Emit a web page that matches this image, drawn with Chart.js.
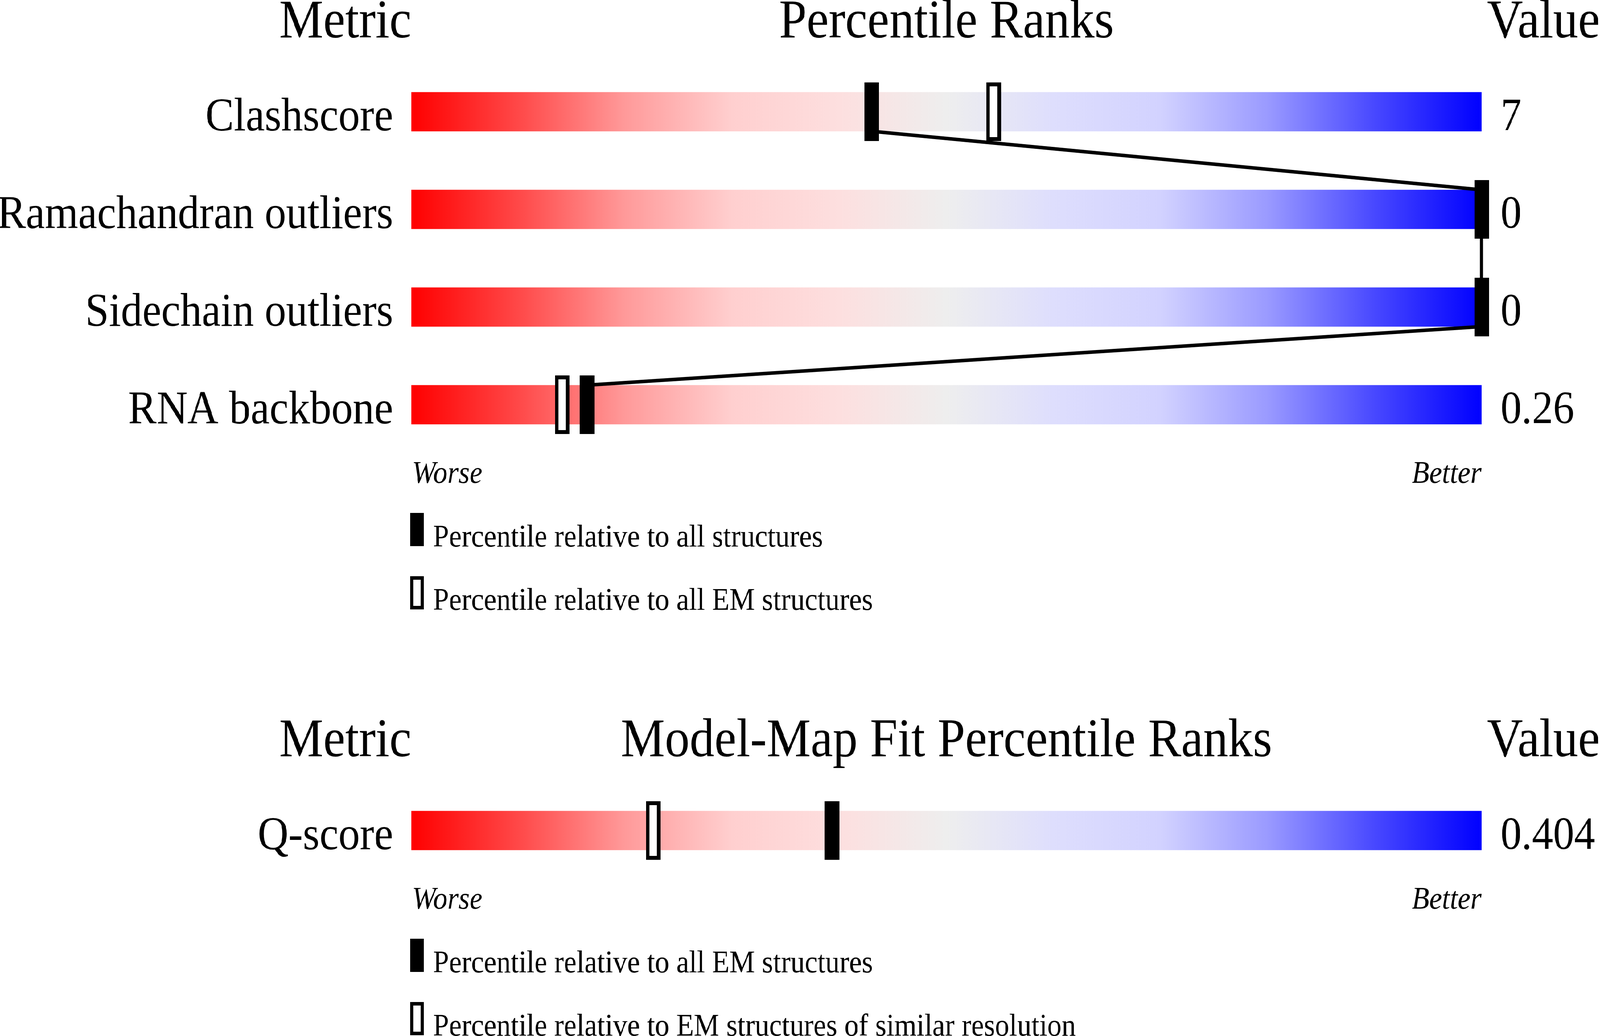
<!DOCTYPE html>
<html>
<head>
<meta charset="utf-8">
<title>Percentile ranks</title>
<script src="https://cdn.jsdelivr.net/npm/chart.js@4.4.0/dist/chart.umd.min.js"></script>
<style>
  html, body { margin: 0; padding: 0; background: #fff; width: 100%; height: 100%; overflow: hidden; }
  #frame { position: absolute; left: 0; top: 0; overflow: hidden; }
  #page { width: 4485px; height: 2652px; position: absolute; left: 0; top: 0; transform-origin: 0 0; }
  canvas { position: absolute; left: 0; }
  #geomChart { top: 0; }
  #fitChart { top: 1640px; }
</style>
</head>
<body>
<div id="frame">
  <div id="page">
    <canvas id="geomChart" width="4485" height="1620"></canvas>
    <canvas id="fitChart" width="4485" height="1012"></canvas>
  </div>
</div>
<script>
// geometry metrics
var metricLabels = ["Clashscore", "Ramachandran outliers", "Sidechain outliers", "RNA backbone"];
var metricValues = ["7", "0", "0", "0.26"];
var pctAll = [43.0, 100, 100, 16.4];   // filled marker
var pctEM = [54.4, 100, 100, 14.1];    // open marker
var geomLegend = ["Percentile relative to all structures", "Percentile relative to all EM structures"];

// model-map fit
var fitLabels = ["Q-score"];
var fitValues = ["0.404"];
var fitPctEM = [39.3];        // filled marker
var fitPctSimilar = [22.6];   // open marker
var fitLegend = ["Percentile relative to all EM structures", "Percentile relative to EM structures of similar resolution"];

var barRange = [0, 100];
var BAR_H = 100;

// the layout is drawn for a 4485x2652 page; stretch it over the real viewport
var vw = window.innerWidth, vh = window.innerHeight;
var sx = vw / 4485, sy = vh / 2652;
var frame = document.getElementById("frame");
frame.style.width = vw + "px";
frame.style.height = vh + "px";
document.getElementById("page").style.transform = "scale(" + sx + "," + sy + ")";
var pixelRatio = (window.devicePixelRatio || 1) * Math.max(sx, sy, 1);

Chart.defaults.font.family = '"Liberation Serif", "Times New Roman", serif';
Chart.defaults.color = "#000";

// marker images used as point styles
function makeMarker(filled) {
  var c = document.createElement("canvas");
  c.width = 41;
  c.height = 150;
  var g = c.getContext("2d");
  g.fillStyle = "#000";
  g.fillRect(0, 0, 41, 150);
  if (!filled) {
    g.fillStyle = "#fff";
    g.fillRect(10, 10, 21, 130);
  }
  return c;
}
var filledMarker = makeMarker(true);
var openMarker = makeMarker(false);

// red -> grey -> blue gradient along the percentile axis
function sliderGradient(context) {
  var chart = context.chart;
  if (!chart.chartArea) return "#eee";
  var x = chart.scales.x;
  var g = chart.ctx.createLinearGradient(x.getPixelForValue(0), 0, x.getPixelForValue(100), 0);
  g.addColorStop(0.0, "#ff0000");
  g.addColorStop(0.1, "#ff4848");
  g.addColorStop(0.2, "#ff9a9a");
  g.addColorStop(0.3, "#ffcfcf");
  g.addColorStop(0.4, "#fddfdf");
  g.addColorStop(0.5, "#eeeeee");
  g.addColorStop(0.6, "#dedefd");
  g.addColorStop(0.7, "#d2d2ff");
  g.addColorStop(0.8, "#9a9aff");
  g.addColorStop(0.9, "#4848ff");
  g.addColorStop(1.0, "#0000ff");
  return g;
}

// push the tick text down so its baseline sits on the bar's lower edge
function lowered(value) {
  return ["", this.getLabelForValue(value)];
}

var sliderDecor = {
  id: "sliderDecor",
  afterDatasetDraw: function (chart, args, opts) {
    // connecting line, drawn over the bars and under the markers
    if (args.index !== 2 || !opts.link) return;
    var x = chart.scales.x, y = chart.scales.y;
    var pts = chart.data.datasets[0].data;
    var ctx = chart.ctx;
    ctx.save();
    ctx.strokeStyle = "#000";
    ctx.lineWidth = 9;
    ctx.beginPath();
    for (var i = 0; i < pts.length - 1; i++) {
      ctx.moveTo(x.getPixelForValue(pts[i].x), y.getPixelForValue(i) + BAR_H / 2);
      ctx.lineTo(x.getPixelForValue(pts[i + 1].x), y.getPixelForValue(i + 1) - BAR_H / 2);
    }
    ctx.stroke();
    ctx.restore();
  },
  afterDraw: function (chart, args, opts) {
    var ctx = chart.ctx;
    var x = chart.scales.x, y = chart.scales.y;
    var n = chart.data.labels.length;
    var left = x.getPixelForValue(0), right = x.getPixelForValue(100);
    var firstTop = y.getPixelForValue(0) - BAR_H / 2;
    var lastBottom = y.getPixelForValue(n - 1) + BAR_H / 2;

    ctx.save();
    ctx.fillStyle = "#000";
    ctx.textBaseline = "alphabetic";

    // headers
    var hy = firstTop - opts.headerGap;
    ctx.font = '139px "Liberation Serif"';
    ctx.textAlign = "right";
    ctx.fillText("Metric", left, hy);
    ctx.textAlign = "center";
    ctx.fillText(opts.title, (left + right) / 2, hy);
    ctx.textAlign = "right";
    ctx.fillText("Value", chart.width, hy);

    // worse / better
    ctx.font = 'italic 80px "Liberation Serif"';
    ctx.textAlign = "left";
    ctx.fillText("Worse", left + 2, lastBottom + 150);
    ctx.textAlign = "right";
    ctx.fillText("Better", right, lastBottom + 150);

    // legend
    ctx.font = '80px "Liberation Serif"';
    ctx.textAlign = "left";
    for (var k = 0; k < opts.legend.length; k++) {
      var top = lastBottom + 227 + k * 162;
      ctx.fillStyle = "#000";
      ctx.fillRect(left - 3, top, 38, 85);
      if (k === 1) {
        ctx.fillStyle = "#fff";
        ctx.fillRect(left + 6, top + 9, 20, 67);
        ctx.fillStyle = "#000";
      }
      ctx.fillText(opts.legend[k], left + 61, top + 86);
    }
    ctx.restore();
  }
};

function buildSlider(canvasId, labels, values, filledPct, openPct, legend, decor, padTop, padBottom) {
  var ctx = document.getElementById(canvasId).getContext("2d");
  return new Chart(ctx, {
    type: "bar",
    data: {
      labels: labels,
      datasets: [
        {
          type: "line",
          label: legend[0],
          data: filledPct.map(function (v, i) { return { x: v, y: labels[i] }; }),
          showLine: false,
          pointStyle: filledMarker,
          pointRadius: 5,
          pointBorderWidth: 0,
          clip: false
        },
        {
          type: "line",
          label: legend[1],
          data: openPct.map(function (v, i) { return { x: v, y: labels[i] }; }),
          showLine: false,
          pointStyle: openMarker,
          pointRadius: 5,
          pointBorderWidth: 0,
          clip: false
        },
        {
          type: "bar",
          label: "range",
          data: labels.map(function () { return barRange; }),
          backgroundColor: sliderGradient,
          borderWidth: 0,
          barThickness: BAR_H
        }
      ]
    },
    options: {
      indexAxis: "y",
      responsive: false,
      maintainAspectRatio: false,
      devicePixelRatio: pixelRatio,
      animation: false,
      events: [],
      layout: { padding: { top: padTop, bottom: padBottom, left: 0, right: 0 } },
      scales: {
        x: { type: "linear", min: 0, max: 100, display: false },
        y: {
          type: "category",
          position: "left",
          grid: { display: false, drawTicks: false },
          border: { display: false },
          ticks: { font: { size: 120, lineHeight: "32px" }, color: "#000", padding: 51, autoSkip: false, callback: lowered },
          afterFit: function (s) { s.width = 1153; }
        },
        y2: {
          type: "category",
          position: "right",
          labels: values,
          offset: true,
          grid: { display: false, drawTicks: false },
          border: { display: false },
          ticks: { font: { size: 118, lineHeight: "32px" }, color: "#000", padding: 53, autoSkip: false, callback: lowered },
          afterFit: function (s) { s.width = 332; }
        }
      },
      plugins: {
        legend: { display: false },
        tooltip: { enabled: false },
        sliderDecor: decor
      }
    },
    plugins: [sliderDecor]
  });
}

buildSlider("geomChart", metricLabels, metricValues, pctAll, pctEM, geomLegend,
  { title: "Percentile Ranks", headerGap: 140, legend: geomLegend, link: true }, 161, 459);

buildSlider("fitChart", fitLabels, fitValues, fitPctEM, fitPctSimilar, fitLegend,
  { title: "Model-Map Fit Percentile Ranks", headerGap: 140, legend: fitLegend, link: false }, 361, 401);
</script>
</body>
</html>
